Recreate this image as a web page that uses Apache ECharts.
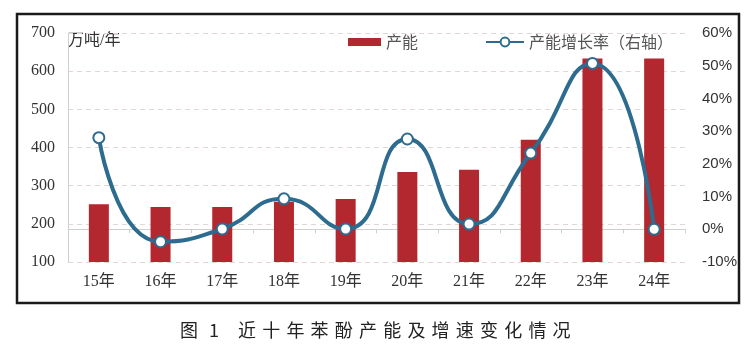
<!DOCTYPE html>
<html><head><meta charset="utf-8">
<script src="https://cdn.jsdelivr.net/npm/echarts@6/dist/echarts.min.js"></script>
<style>html,body{margin:0;padding:0;background:#fff}#c{width:747px;height:363px}</style>
</head><body><div id="c"></div>
<script>
// ---- data ----
const categories = ['15年','16年','17年','18年','19年','20年','21年','22年','23年','24年'];
const capacity = [251, 244, 244, 258, 265, 336, 342, 420, 633, 633];     // 万吨/年
const growthRate = [28.0, -3.8, 0.1, 9.3, 0.1, 27.6, 1.6, 23.3, 50.7, 0.0]; // %
const leftAxisRange = [100, 700, 100];   // min, max, interval
const rightAxisRange = [-10, 60, 10];
const seriesNames = ['产能', '产能增长率（右轴）'];
const unitLabel = '万吨/年';
const captionHead = ['图', '1'];
const captionBody = '近十年苯酚产能及增速变化情况';

const serif = '"Liberation Serif","Noto Sans CJK SC",serif';
const cjk = '"Noto Sans CJK SC",sans-serif';

const captionEls = [];
captionHead.forEach((ch, i) => captionEls.push({
  type: 'text', left: 180 + i * 29, top: 321,
  style: { text: ch, font: '18px ' + cjk, fill: '#222' }
}));
captionBody.split('').forEach((ch, i) => captionEls.push({
  type: 'text', left: 238 + i * 24.2, top: 321,
  style: { text: ch, font: '18px ' + cjk, fill: '#222' }
}));

const chart = echarts.init(document.getElementById('c'), null, { renderer: 'canvas' });
chart.setOption({
  backgroundColor: '#fff',
  animation: false,
  grid: { left: 68, right: 62, top: 33, bottom: 101 },
  legend: [
    { data: [{ name: seriesNames[0], icon: 'rect' }], left: 343, top: 29, itemWidth: 33, itemHeight: 8,
      itemGap: 0, textStyle: { fontSize: 16, color: '#555', fontFamily: cjk } },
    { data: [seriesNames[1]], left: 480, top: 29, itemWidth: 38, itemHeight: 11,
      itemGap: 0, textStyle: { fontSize: 16, color: '#555', fontFamily: cjk } }
  ],
  xAxis: {
    type: 'category', data: categories, boundaryGap: true,
    axisLine: { lineStyle: { color: '#cfcfcf', width: 1 } },
    axisTick: { show: true, length: 4, lineStyle: { color: '#cfcfcf' } },
    axisLabel: { fontSize: 16, color: '#333', fontFamily: serif, margin: 12 }
  },
  yAxis: [
    { type: 'value', min: leftAxisRange[0], max: leftAxisRange[1], interval: leftAxisRange[2],
      axisLine: { show: true, lineStyle: { color: '#cfcfcf' } },
      axisTick: { show: false },
      axisLabel: { fontSize: 16, color: '#333', fontFamily: serif, margin: 13 },
      splitLine: { lineStyle: { color: '#e3d6d6', type: [5, 4], width: 1 } } },
    { type: 'value', min: rightAxisRange[0], max: rightAxisRange[1], interval: rightAxisRange[2],
      position: 'right',
      axisLine: { show: false }, axisTick: { show: false },
      axisLabel: { formatter: '{value}%', fontSize: 15, color: '#333',
        fontFamily: '"Liberation Sans Narrow","Liberation Sans",sans-serif', margin: 17 },
      splitLine: { show: false } }
  ],
  series: [
    { name: seriesNames[0], type: 'bar', data: capacity, yAxisIndex: 0, barWidth: 20,
      itemStyle: { color: '#b3272e' }, z: 2 },
    { name: seriesNames[1], type: 'line', data: growthRate, yAxisIndex: 1, smooth: 0.55,
      symbol: 'circle', symbolSize: 11, showSymbol: true,
      lineStyle: { color: '#2d6b8f', width: 4 },
      itemStyle: { color: '#fff', borderColor: '#2d6b8f', borderWidth: 2 }, z: 3 }
  ],
  graphic: [
    { type: 'rect', shape: { x: 17, y: 14, width: 722, height: 289 },
      style: { fill: 'none', stroke: '#1a1a1a', lineWidth: 2.5 }, z: 100 },
    { type: 'text', left: 68, top: 33,
      style: { text: unitLabel, font: '16px ' + serif, fill: '#333' } },
    ...captionEls
  ]
});
</script></body></html>
